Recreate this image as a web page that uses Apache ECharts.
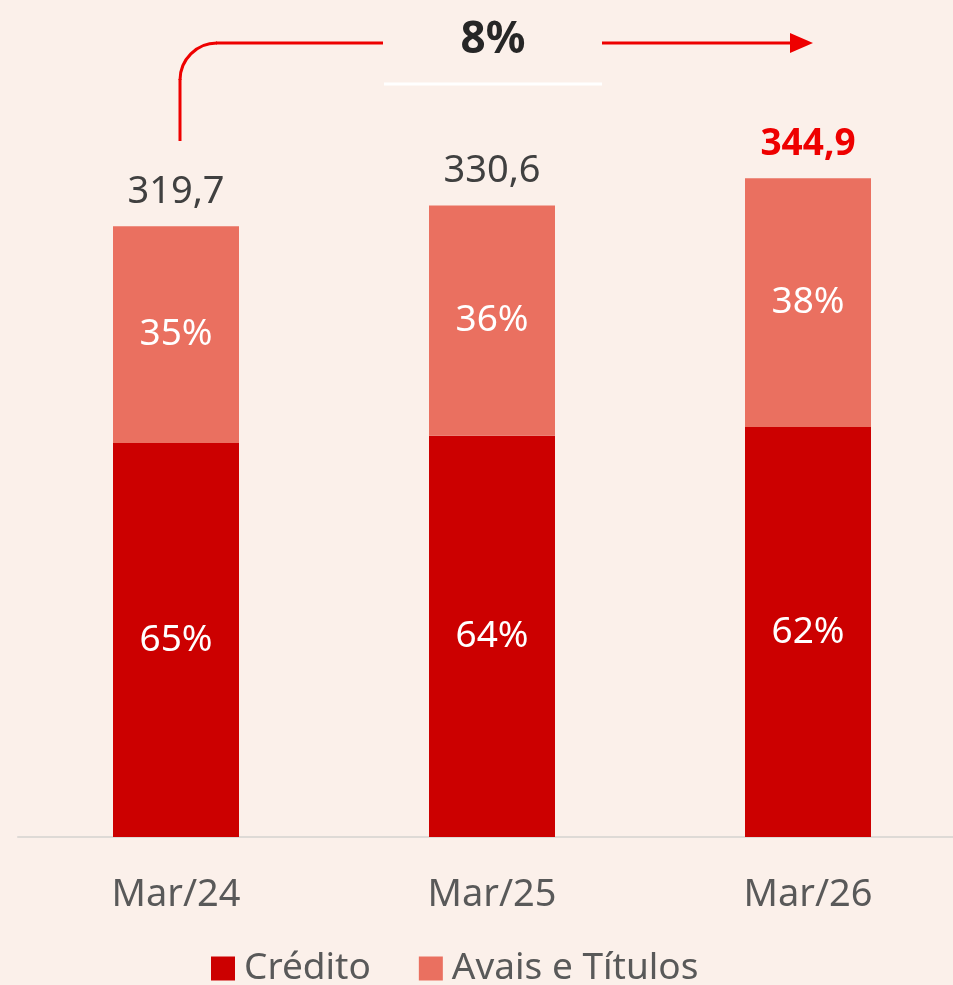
<!DOCTYPE html>
<html>
<head>
<meta charset="utf-8">
<script src="https://cdn.jsdelivr.net/npm/echarts@6/dist/echarts.min.js"></script>
<style>
  html, body { margin: 0; padding: 0; background: #fbf0ea; }
  #chart { width: 953px; height: 985px; }
</style>
</head>
<body>
<div id="chart"></div>
<script>
var categories = ["Mar/24", "Mar/25", "Mar/26"];
var credito = [206.3, 210.1, 214.7];
var avais = [113.4, 120.5, 130.2];
var totals = ["319,7", "330,6", "344,9"];
var creditoPct = ["65%", "64%", "62%"];
var avaisPct = ["35%", "36%", "38%"];
var growth = "8%";

var font = "Noto Sans";
var chart = echarts.init(document.getElementById("chart"));

chart.setOption({
  backgroundColor: "#fbf0ea",
  animation: false,
  textStyle: { fontFamily: font },
  grid: { left: 18, width: 948, top: 73, bottom: 148, outerBoundsMode: "none", containLabel: false },
  legend: {
    bottom: -2,
    left: 211,
    padding: 0,
    itemWidth: 24,
    itemHeight: 24,
    itemGap: 48,
    icon: "rect",
    textStyle: { fontSize: 37, color: "#595959", fontFamily: font, padding: [0, 0, 0, 4] },
    data: ["Crédito", "Avais e Títulos"]
  },
  xAxis: {
    type: "category",
    data: categories,
    axisLine: { lineStyle: { color: "#dedad6", width: 2 } },
    axisTick: { show: false },
    axisLabel: { fontSize: 38, color: "#595959", margin: 39 }
  },
  yAxis: {
    type: "value",
    min: 0,
    max: 400,
    show: false,
    splitLine: { show: false }
  },
  series: [
    {
      name: "Crédito",
      type: "bar",
      stack: "total",
      barWidth: 126,
      data: credito,
      itemStyle: { color: "#cc0000" },
      label: {
        show: true,
        position: "inside",
        fontSize: 37,
        color: "#ffffff",
        formatter: function (p) { return creditoPct[p.dataIndex]; }
      }
    },
    {
      name: "Avais e Títulos",
      type: "bar",
      stack: "total",
      barWidth: 126,
      data: avais,
      itemStyle: { color: "#ea7060" },
      label: {
        show: true,
        position: "inside",
        fontSize: 37,
        color: "#ffffff",
        formatter: function (p) { return avaisPct[p.dataIndex]; }
      }
    },
    {
      // invisible series carrying the total labels above each bar
      name: "total",
      type: "bar",
      stack: "total",
      barWidth: 126,
      data: categories.map(function (c, i) {
        if (i === categories.length - 1) {
          return { value: 0, label: { color: "#ee0000", fontWeight: "bold", fontSize: 37 } };
        }
        return { value: 0, label: { color: "#404040" } };
      }),
      itemStyle: { color: "transparent" },
      label: {
        show: true,
        position: "top",
        distance: 15,
        fontSize: 38,
        formatter: function (p) { return totals[p.dataIndex]; }
      }
    }
  ],
  // growth annotation: curved arrow and label
  graphic: [
    {
      type: "line",
      shape: { x1: 180, y1: 141, x2: 180, y2: 79 },
      style: { stroke: "#ee0000", lineWidth: 3 }
    },
    {
      type: "arc",
      shape: { cx: 217, cy: 80, r: 37, startAngle: Math.PI, endAngle: Math.PI * 1.5 },
      style: { stroke: "#ee0000", lineWidth: 3, fill: null }
    },
    {
      type: "line",
      shape: { x1: 216, y1: 43, x2: 383, y2: 43 },
      style: { stroke: "#ee0000", lineWidth: 3 }
    },
    {
      type: "line",
      shape: { x1: 602, y1: 43, x2: 792, y2: 43 },
      style: { stroke: "#ee0000", lineWidth: 3 }
    },
    {
      type: "polygon",
      shape: { points: [[790, 33], [813, 43], [790, 53]] },
      style: { fill: "#ee0000" }
    },
    {
      type: "line",
      shape: { x1: 384, y1: 84, x2: 602, y2: 84 },
      style: { stroke: "#ffffff", lineWidth: 3 }
    },
    {
      type: "text",
      x: 493,
      y: 40,
      style: {
        text: growth,
        font: "bold 44px " + font,
        fill: "#262626",
        align: "center",
        verticalAlign: "middle"
      }
    }
  ]
});
</script>
</body>
</html>
